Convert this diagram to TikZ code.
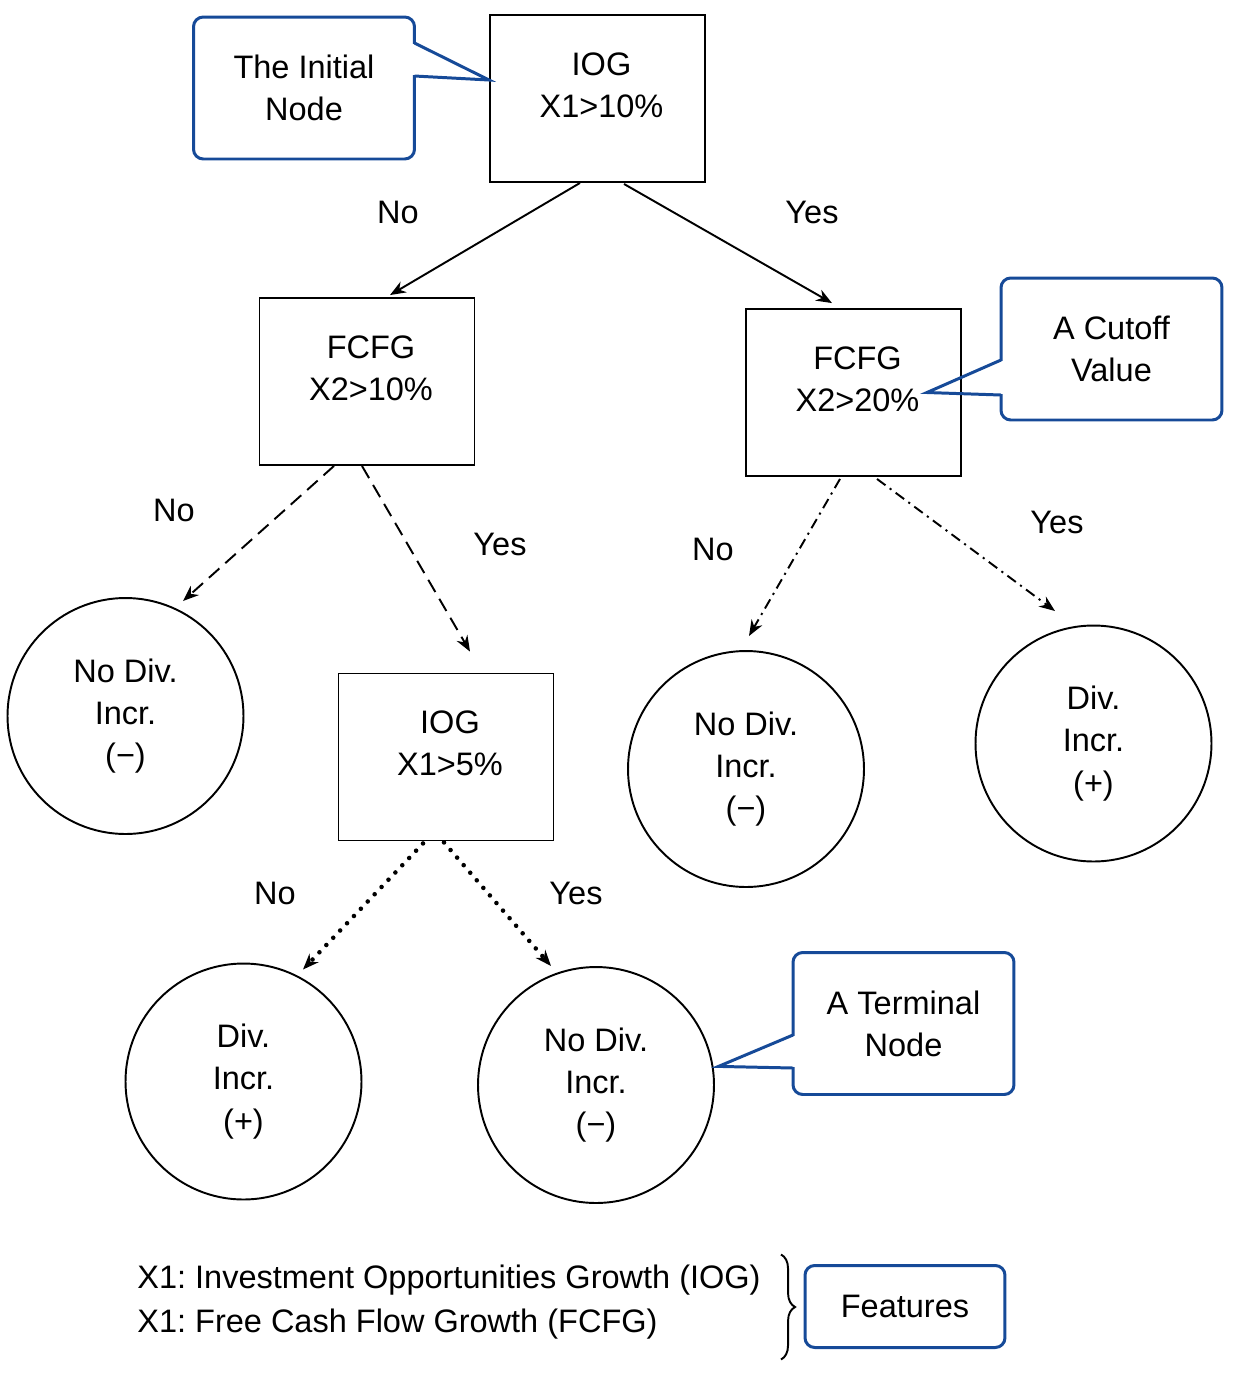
\documentclass[tikz,border=0pt]{standalone}
\usepackage{fontspec}
\setmainfont{Liberation Sans}
\usetikzlibrary{arrows.meta,calc,decorations.pathreplacing}
\definecolor{noteblue}{RGB}{22,74,152}
\newcommand{\boxtext}[2]{\begin{tabular}{@{\hspace{0.16cm}}c@{}}#1\\#2\end{tabular}}

\begin{document}
\frenchspacing
\begin{tikzpicture}[
    x=0.02cm, y=-0.02cm,
    every node/.style={font=\fontsize{18.5}{24}\selectfont},
    decision/.style={draw, line width=1.1pt, rectangle, minimum width=4.3cm, minimum height=3.34cm, text depth=32pt},
    leaf/.style={draw, line width=1.1pt, circle, minimum size=4.72cm, inner sep=0pt, align=center},
    note/.style={draw=noteblue, line width=1.7pt, rounded corners=5.5pt, outer sep=0pt, minimum width=4.42cm, minimum height=2.84cm, align=center},
    notetip/.style={draw=noteblue, line width=1.7pt},
    answer/.style={anchor=base, inner sep=0pt},
    branch/.style={line width=1.1pt, -{Stealth[length=9pt,width=7pt]}},
    dashbranch/.style={branch, dash pattern=on 8pt off 4.5pt},
    dashdotbranch/.style={branch, dash pattern=on 6pt off 3pt on 1.2pt off 3pt},
    dotbranch/.style={branch, line width=2.6pt, line cap=round, dash pattern=on 0pt off 5.7pt},
]
  \useasboundingbox (0,0) rectangle (1238,1374);

  % tree
  \node [decision] (iog)    at (597.5, 98.5) {\boxtext{IOG}{X1>10\%}};
  \node [decision] (fcfgL)  at (367,  381.5) {\boxtext{FCFG}{X2>10\%}};
  \node [decision] (fcfgR)  at (853.5,392.5) {\boxtext{FCFG}{X2>20\%}};
  \node [decision] (iog2)   at (446,  757)   {\boxtext{IOG}{X1>5\%}};
  \node [leaf]     (nodivL) at (125.5,716)   {No Div.\\Incr.\\(−)};
  \node [leaf]     (nodivM) at (746,  769)   {No Div.\\Incr.\\(−)};
  \node [leaf]     (divR)   at (1093.5,743.5){Div.\\Incr.\\(+)};
  \node [leaf]     (divB)   at (243.5,1081.5){Div.\\Incr.\\(+)};
  \node [leaf]     (nodivB) at (596, 1085)   {No Div.\\Incr.\\(−)};

  \draw [branch]        ($(iog.south)+(-17.5,0)$)   -- ($(fcfgL.north)+(23,-2)$);
  \draw [branch]        ($(iog.south)+(26.5,1)$)    -- ($(fcfgR.north)+(-21.5,-5)$);
  \draw [dashbranch]    ($(fcfgL.south)+(-33,0)$)   -- ($(nodivL.center)+(57.5,-115)$);
  \draw [dashbranch]    ($(fcfgL.south)+(-5,0)$)    -- ($(iog2.north)+(24,-21)$);
  \draw [dashdotbranch] ($(fcfgR.south)+(-13.5,2)$) -- ($(nodivM.center)+(3,-133)$);
  \draw [dashdotbranch] ($(fcfgR.south)+(23.5,2)$)  -- ($(divR.center)+(-38.5,-132.5)$);
  \draw [dotbranch]     ($(iog2.south)+(-23,2)$)    -- ($(divB.center)+(59.5,-112)$);
  \draw [dotbranch]     ($(iog2.south)+(-2,1)$)     -- ($(nodivB.center)+(-45,-119)$);

  \node [answer] (no1)  at (398, 223) {No};
  \node [answer] (yes1) at (812, 223) {Yes};
  \node [answer] (no2)  at (174, 521) {No};
  \node [answer] (yes2) at (500, 555) {Yes};
  \node [answer] (no3)  at (713, 560) {No};
  \node [answer] (yes3) at (1057,533) {Yes};
  \node [answer] (no4)  at (275, 904) {No};
  \node [answer] (yes4) at (576, 904) {Yes};

  % callouts
  \node [note] (initial)  at (304,88)        {The Initial\\Node};
  \fill [white] ($(initial.east)+(-2.5,-44)$) rectangle ($(initial.east)+(2.5,-13)$);
  \draw [notetip] ($(initial.east)+(0,-45)$) -- ($(iog.west)+(0,-18.5)$) -- ($(initial.east)+(0,-12)$);

  \node [note] (cutoff)   at (1111.5,349)    {A Cutoff\\Value};
  \fill [white] ($(cutoff.west)+(-2.5,12)$) rectangle ($(cutoff.west)+(2.5,45)$);
  \draw [notetip] ($(cutoff.west)+(0,11)$) -- ($(fcfgR.east)+(-35,0)$) -- ($(cutoff.west)+(0,46)$);

  \node [note] (terminal) at (903.5,1023.5)  {A Terminal\\Node};
  \fill [white] ($(terminal.west)+(-2.5,12.5)$) rectangle ($(terminal.west)+(2.5,43.5)$);
  \draw [notetip] ($(terminal.west)+(0,11.5)$) -- ($(nodivB.9)+(5,0)$) -- ($(terminal.west)+(0,44.5)$);

  % legend
  \node [anchor=base west, inner sep=0pt] (legendA) at (137,1288) {X1: Investment Opportunities Growth (IOG)};
  \node [anchor=base west, inner sep=0pt] (legendB) at (137,1332) {X1: Free Cash Flow Growth (FCFG)};
  \node [note, minimum width=4cm, minimum height=1.64cm] (features) at (905,1306.5) {Features};
  \draw [line width=1.1pt, decorate, decoration={brace, amplitude=8pt}]
    ($(features.west)+(-24,-52)$) -- ($(features.west)+(-24,53)$);
\end{tikzpicture}
\end{document}
